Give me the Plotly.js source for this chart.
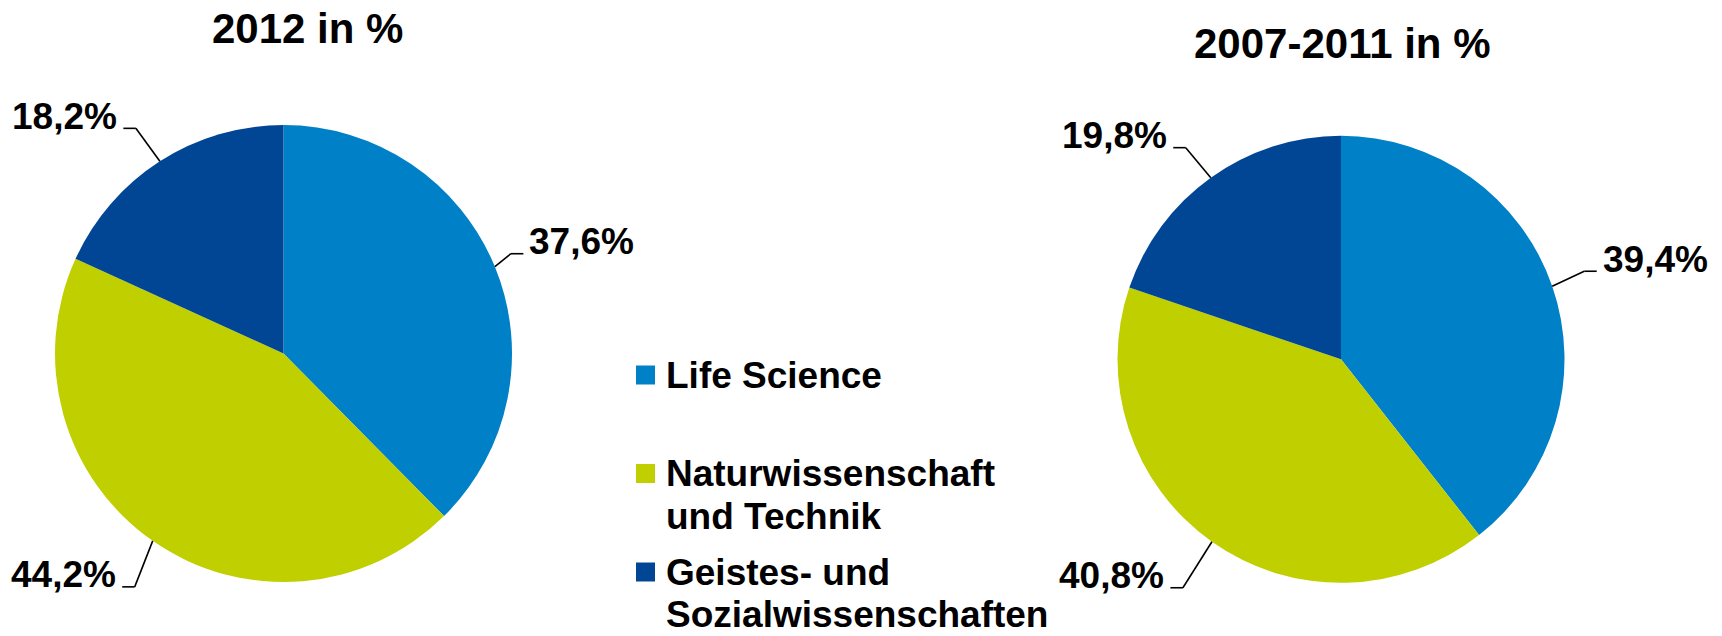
<!DOCTYPE html>
<html><head><meta charset="utf-8">
<script src="https://cdn.plot.ly/plotly-3.0.1.min.js"></script>
<style>html,body{margin:0;padding:0;background:#fff}#chart{width:1722px;height:636px}</style>
</head><body><div id="chart"></div>
<script>
// ---- data ----
const categories = ["Life Science", "Naturwissenschaft und Technik", "Geistes- und Sozialwissenschaften"];
const legendLines = [["Life Science"], ["Naturwissenschaft", "und Technik"], ["Geistes- und", "Sozialwissenschaften"]];
const values2012 = [37.6, 44.2, 18.2];
const values2007_2011 = [39.4, 40.8, 19.8];
const chartTitles = ["2012 in %", "2007-2011 in %"];
const colors = ["#0081C7", "#C0CF00", "#004694"];

// ---- layout / style ----
const W = 1722, H = 636;
const FONT = "Liberation Sans, Arial, Helvetica, sans-serif";
const pies = [
  {values: values2012, title: chartTitles[0], cx: 283.5, cy: 353.5, r: 228.5, tx: 307.7, ty: 28.3,
   knee: [[16, -13], [-18, 46], [-24, -33]]},
  {values: values2007_2011, title: chartTitles[1], cx: 1341, cy: 359.3, r: 223.5, tx: 1342.5, ty: 43.8,
   knee: [[32, -15], [-29, 46], [-25, -30]]}
];
const px = x => x / W;
const py = y => 1 - y / H;
const fmt = v => v.toFixed(1).replace('.', ',') + '%';

const traces = [], annotations = [], shapes = [];
pies.forEach((p, k) => {
  traces.push({
    type: 'pie', values: p.values, labels: categories, sort: false, direction: 'clockwise', rotation: 0,
    marker: {colors: colors, line: {width: 0}}, textinfo: 'none', hoverinfo: 'skip', showlegend: false,
    domain: {x: [px(p.cx - p.r), px(p.cx + p.r)], y: [py(p.cy + p.r), py(p.cy - p.r)]}
  });
  annotations.push({xref: 'paper', yref: 'paper', x: px(p.tx), y: py(p.ty), xanchor: 'center', yanchor: 'middle',
    text: p.title, showarrow: false, font: {family: FONT, size: 42, color: '#000', weight: 'bold'}});
  const total = p.values.reduce((a, b) => a + b, 0);
  let cum = 0;
  p.values.forEach((v, i) => {
    const mid = (cum + v / 2) / total * 2 * Math.PI;
    cum += v;
    const ex = p.cx + p.r * Math.sin(mid), ey = p.cy - p.r * Math.cos(mid);
    const kx = ex + p.knee[i][0], ky = ey + p.knee[i][1];
    const side = Math.sin(mid) >= 0 ? 1 : -1;
    const hx = kx + side * 12.5;
    const line = {color: '#000', width: 1.6};
    shapes.push({type: 'line', xref: 'paper', yref: 'paper', x0: px(ex), y0: py(ey), x1: px(kx), y1: py(ky), line});
    shapes.push({type: 'line', xref: 'paper', yref: 'paper', x0: px(kx), y0: py(ky), x1: px(hx), y1: py(ky), line});
    annotations.push({xref: 'paper', yref: 'paper', x: px(hx + side * 5), y: py(ky - 12),
      xanchor: side > 0 ? 'left' : 'right', yanchor: 'middle', showarrow: false, borderpad: 0,
      text: fmt(v), font: {family: FONT, size: 37, color: '#000', weight: 'bold'}});
  });
});

// legend
const legX = 636, legSq = 19, legTextX = 665, legFirst = 375, legItemStep = 98.5, legLineStep = 42.5;
legendLines.forEach((lines, i) => {
  const cy = legFirst + i * legItemStep;
  shapes.push({type: 'rect', xref: 'paper', yref: 'paper', x0: px(legX), x1: px(legX + legSq),
    y0: py(cy - legSq / 2), y1: py(cy + legSq / 2), fillcolor: colors[i], line: {width: 0}});
  lines.forEach((t, j) => {
    annotations.push({xref: 'paper', yref: 'paper', x: px(legTextX), y: py(cy + j * legLineStep),
      xanchor: 'left', yanchor: 'middle', showarrow: false, borderpad: 0,
      text: t, font: {family: FONT, size: 37, color: '#000', weight: 'bold'}});
  });
});

Plotly.newPlot('chart', traces, {
  width: W, height: H, margin: {l: 0, r: 0, t: 0, b: 0},
  paper_bgcolor: '#fff', plot_bgcolor: '#fff', showlegend: false,
  annotations, shapes
}, {staticPlot: true, displayModeBar: false});
</script>
</body></html>
